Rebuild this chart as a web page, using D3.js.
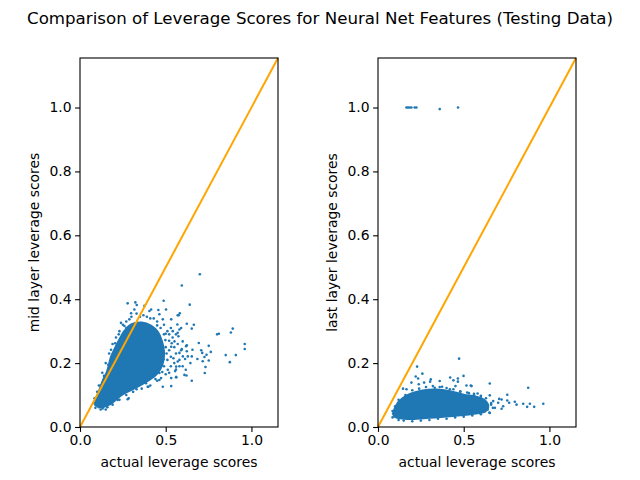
<!DOCTYPE html>
<html>
<head>
<meta charset="utf-8">
<script src="https://cdn.jsdelivr.net/npm/d3@7"></script>
<style>
	body { margin: 0; background: white; }
	svg text { font-family: 'DejaVu Sans', sans-serif; fill: black; }
</style>
</head>
<body>
<svg id="fig" width="640" height="480"></svg>
<script>
var xTicks = [0, 0.5, 1.0];
var yTicks = [0, 0.2, 0.4, 0.6, 0.8, 1.0];
var axMax = 1.155;

// dense middle of the mid layer cloud (outline, data units)
var midCore = [[0.088,0.068],[0.091,0.086],[0.113,0.118],[0.135,0.150],[0.155,0.172],[0.181,0.222],[0.200,0.244],[0.230,0.276],[0.259,0.302],
	[0.298,0.322],[0.360,0.328],[0.415,0.318],[0.455,0.298],[0.480,0.268],[0.492,0.232],[0.482,0.195],[0.450,0.166],[0.400,0.145],
	[0.346,0.128],[0.249,0.101],[0.171,0.069],[0.132,0.061],[0.103,0.064]];
// scattered mid layer points
var midPoints = [[0.699,0.478],[0.594,0.443],[0.640,0.383],[0.582,0.356],[0.570,0.350],[0.664,0.320],[0.623,0.323],[0.652,0.308],
	[0.810,0.292],[0.800,0.290],[0.891,0.308],[0.880,0.296],[0.961,0.260],[0.961,0.244],[0.850,0.225],[0.909,0.225],[0.874,0.203],
	[0.693,0.263],[0.751,0.254],[0.763,0.235],[0.738,0.226],[0.751,0.208],[0.726,0.219],[0.707,0.240],[0.713,0.232],[0.732,0.188],
	[0.728,0.169],[0.716,0.206],[0.685,0.213],[0.652,0.221],[0.656,0.242],[0.623,0.256],[0.623,0.237],[0.629,0.221],[0.613,0.213],
	[0.644,0.200],[0.599,0.190],[0.617,0.179],[0.609,0.163],[0.621,0.161],[0.561,0.156],[0.594,0.244],[0.580,0.232],[0.570,0.205],
	[0.561,0.189],[0.574,0.284],[0.580,0.305],[0.568,0.321],[0.599,0.268],[0.541,0.300],[0.551,0.268],[0.532,0.251],
	[0.278,0.387],[0.323,0.390],[0.331,0.382],[0.298,0.356],[0.317,0.368],[0.488,0.395],[0.376,0.379],[0.405,0.363],[0.457,0.366],
	[0.502,0.368],[0.463,0.353],[0.239,0.326],[0.259,0.316],[0.483,0.337],[0.532,0.337],[0.576,0.350],[0.288,0.337],[0.415,0.368],
	[0.385,0.137],[0.399,0.126],[0.473,0.153],[0.532,0.128],[0.652,0.145],[0.561,0.156],[0.512,0.179],[0.463,0.169],[0.580,0.190],
	[0.278,0.087],[0.132,0.058],[0.483,0.126],[0.430,0.163],[0.590,0.310],[0.570,0.295],[0.619,0.253],[0.600,0.221],[0.532,0.153],
	[0.463,0.147],[0.395,0.126],[0.284,0.090],[0.181,0.242],[0.205,0.262],[0.226,0.290],[0.350,0.345],[0.430,0.340],[0.520,0.290],
	[0.545,0.215],[0.555,0.175],[0.500,0.165],[0.440,0.150],[0.330,0.118],[0.220,0.085],[0.160,0.062],[0.110,0.062],[0.095,0.080],
	[0.165,0.195],[0.140,0.160],[0.120,0.130],[0.270,0.310],[0.390,0.345],[0.450,0.318],[0.500,0.292],[0.535,0.262],
	[0.470,0.310],[0.490,0.290],[0.510,0.300],[0.500,0.250],[0.520,0.240],[0.530,0.220],[0.510,0.210],[0.490,0.190],[0.530,0.190],
	[0.550,0.200],[0.560,0.230],[0.550,0.250],[0.570,0.260],[0.540,0.280],[0.520,0.270],[0.498,0.272],[0.505,0.230],[0.487,0.212],
	[0.460,0.180],[0.440,0.170],[0.480,0.172],[0.520,0.170],[0.560,0.180],[0.580,0.210],[0.590,0.240],[0.560,0.290],[0.530,0.310],
	[0.490,0.320],[0.450,0.330],[0.410,0.340],[0.370,0.350],[0.330,0.355],[0.300,0.345],[0.270,0.330],[0.250,0.320],[0.230,0.300],
	[0.210,0.280],[0.190,0.260],[0.170,0.230],[0.150,0.200],[0.130,0.170],[0.110,0.130],[0.100,0.110],[0.085,0.090],[0.080,0.075],
	[0.090,0.060],[0.120,0.055],[0.150,0.055],[0.190,0.070],[0.230,0.085],[0.270,0.100],[0.310,0.110],[0.360,0.120],[0.410,0.130],
	[0.450,0.145]];

// dense middle of the last layer cloud
var lastCore = [[0.090,0.036],[0.094,0.056],[0.110,0.072],[0.140,0.090],[0.190,0.105],[0.260,0.115],[0.340,0.118],[0.420,0.113],
	[0.500,0.102],[0.570,0.096],[0.620,0.086],[0.645,0.066],[0.625,0.048],[0.550,0.040],[0.480,0.036],[0.400,0.032],[0.300,0.028],
	[0.200,0.024],[0.140,0.026],[0.100,0.030]];
var lastPoints = [[0.166,1.0],[0.175,1.0],[0.185,1.0],[0.195,1.0],[0.214,1.0],[0.224,1.0],[0.360,0.995],[0.467,1.0],
	[0.473,0.214],[0.374,0.126],[0.228,0.189],[0.259,0.167],[0.220,0.158],[0.234,0.152],[0.238,0.134],[0.195,0.139],[0.166,0.118],
	[0.146,0.120],[0.269,0.139],[0.308,0.149],[0.304,0.142],[0.360,0.144],[0.331,0.123],[0.421,0.155],[0.440,0.146],[0.466,0.152],
	[0.466,0.142],[0.499,0.160],[0.516,0.130],[0.541,0.130],[0.452,0.128],[0.419,0.118],[0.581,0.105],[0.604,0.086],[0.117,0.076],
	[0.098,0.046],[0.652,0.136],[0.876,0.123],[0.546,0.128],[0.754,0.101],[0.964,0.073],[0.911,0.063],[0.886,0.073],[0.870,0.063],
	[0.847,0.073],[0.808,0.070],[0.798,0.079],[0.765,0.076],[0.754,0.083],[0.721,0.086],[0.707,0.088],[0.701,0.076],[0.730,0.065],
	[0.721,0.057],[0.682,0.060],[0.672,0.081],[0.652,0.099],[0.652,0.044],[0.623,0.049],[0.660,0.070],[0.640,0.055],[0.600,0.098],
	[0.560,0.100],[0.530,0.106],[0.480,0.110],[0.150,0.020],[0.250,0.020],[0.350,0.026],[0.450,0.030],[0.550,0.036],[0.088,0.042],
	[0.120,0.085],[0.160,0.100],[0.200,0.115],[0.240,0.120],[0.280,0.125],[0.320,0.128],[0.360,0.125],[0.400,0.122],[0.440,0.118],
	[0.480,0.112],[0.520,0.108],[0.560,0.104],[0.600,0.095],[0.630,0.090],[0.660,0.075],[0.670,0.060],[0.650,0.045],[0.600,0.040],
	[0.500,0.032],[0.400,0.026],[0.300,0.022],[0.200,0.018],[0.120,0.022],[0.085,0.030],[0.085,0.050],[0.100,0.065]];

var mTop = 58, mBottom = 427, panelW = 198;

function drawPanel(svg, left, core, points, ylabel) {
	let x = d3.scaleLinear().domain([0, axMax]).range([left, left + panelW]);
	let y = d3.scaleLinear().domain([0, axMax]).range([mBottom, mTop]);
	let g = svg.append('g');

	// dense part of the cloud
	g.append('path').datum(core)
		.attr('d', d3.line().x(d => x(d[0])).y(d => y(d[1])).curve(d3.curveCatmullRomClosed))
		.style('fill', '#1f77b4').style('stroke', '#1f77b4').style('stroke-width', 1.5);
	g.selectAll('circle').data(points).join('circle')
		.attr('cx', d => x(d[0])).attr('cy', d => y(d[1])).attr('r', 1.3)
		.style('fill', '#1f77b4');

	// y = x reference line
	g.append('line')
		.attr('x1', x(0)).attr('y1', y(0)).attr('x2', x(axMax)).attr('y2', y(axMax))
		.style('stroke', 'orange').style('stroke-width', 2);

	// axes
	let xa = svg.append('g').attr('transform', 'translate(0,' + mBottom + ')')
		.call(d3.axisBottom(x).tickValues(xTicks).tickFormat(d3.format('.1f')).tickSizeInner(4.9).tickSizeOuter(0).tickPadding(3.5));
	let ya = svg.append('g').attr('transform', 'translate(' + left + ',0)')
		.call(d3.axisLeft(y).tickValues(yTicks).tickFormat(d3.format('.1f')).tickSizeInner(4.9).tickSizeOuter(0).tickPadding(3.5));
	for (a of [xa, ya]) {
		a.select('.domain').remove();
		a.selectAll('line').style('stroke', 'black').style('stroke-width', 1.1);
		a.selectAll('text').style('font-size', '13.9px').style('font-family', 'DejaVu Sans');
	}

	// frame
	svg.append('rect')
		.attr('x', left).attr('y', mTop).attr('width', panelW).attr('height', mBottom - mTop)
		.style('fill', 'none').style('stroke', 'black').style('stroke-width', 1.1);

	// labels
	svg.append('text')
		.attr('x', left + panelW / 2).attr('y', 467)
		.attr('text-anchor', 'middle').style('font-size', '13.9px')
		.text('actual leverage scores');
	svg.append('text')
		.attr('transform', 'translate(' + (left - 41) + ',' + (mTop + mBottom) / 2 + ') rotate(-90)')
		.attr('text-anchor', 'middle').style('font-size', '13.9px')
		.text(ylabel);
}

function init() {
	let svg = d3.select('#fig');
	svg.append('rect').attr('width', 640).attr('height', 480).style('fill', 'white');

	svg.append('text')
		.attr('x', 320).attr('y', 24)
		.attr('text-anchor', 'middle').style('font-size', '16.67px')
		.text('Comparison of Leverage Scores for Neural Net Features (Testing Data)');

	drawPanel(svg, 80, midCore, midPoints, 'mid layer leverage scores');
	drawPanel(svg, 378, lastCore, lastPoints, 'last layer leverage scores');
}

init();
</script>
</body>
</html>
